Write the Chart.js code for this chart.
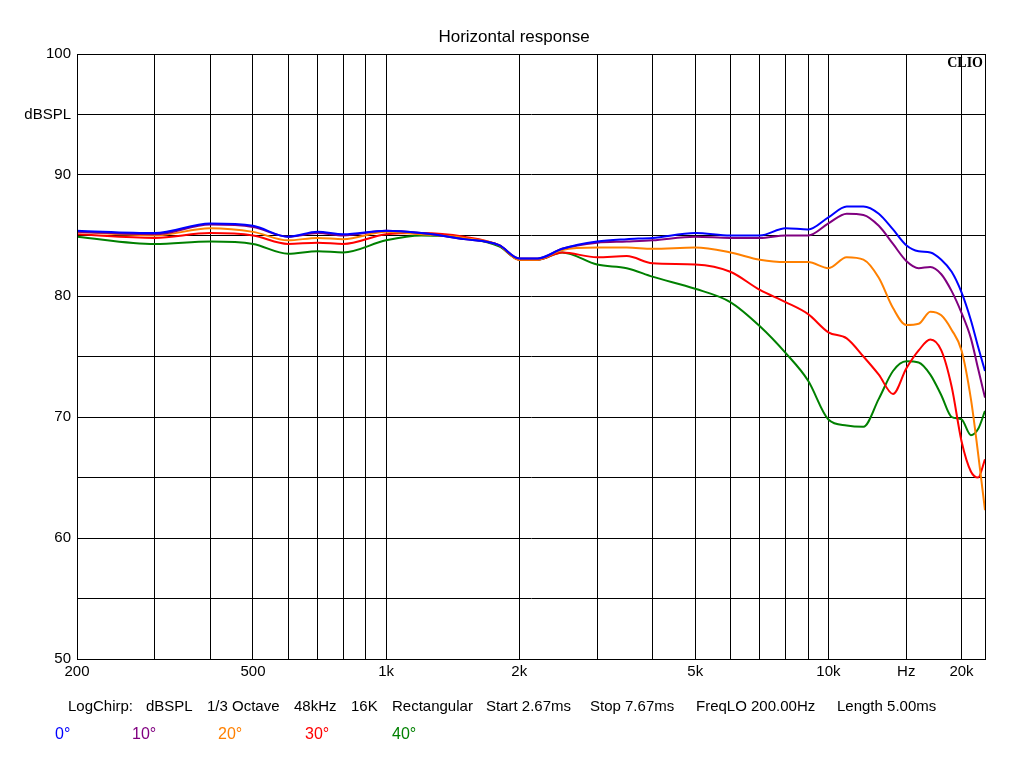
<!DOCTYPE html>
<html><head><script src="https://cdn.jsdelivr.net/npm/chart.js@4"></script>
<style>body{margin:0;background:#fff}#w{width:1024px;height:768px}</style></head>
<body><div id="w"><canvas id="c"></canvas></div>
<script>
const freqs=[200,300,400,500,600,700,800,1000,1200,1500,1800,2000,2200,2500,3000,3500,4000,5000,6000,7000,8000,9000,10000,11000,12000,13000,14000,15000,16000,17000,18000,19000,20000,21000,21800,22600];
const s0=[85.4,85.2,86.0,85.8,84.9,85.3,85.1,85.4,85.2,84.7,84.2,83.1,83.1,83.9,84.5,84.7,84.8,85.2,85.0,85.0,85.6,85.5,86.5,87.4,87.4,86.8,85.5,84.2,83.7,83.6,83.0,82.0,80.3,78.0,75.8,73.8];
const s10=[85.3,85.1,85.9,85.7,84.9,85.2,85.0,85.4,85.2,84.7,84.2,83.1,83.1,83.9,84.4,84.5,84.6,84.9,84.8,84.8,85.0,85.0,86.0,86.8,86.7,85.8,84.3,82.9,82.3,82.4,81.8,80.4,78.6,76.5,74.0,71.6];
const s20=[85.3,85.0,85.6,85.3,84.6,84.8,84.7,85.3,85.1,84.8,84.2,83.0,83.0,83.8,84.0,84.0,83.9,84.0,83.6,83.0,82.8,82.8,82.3,83.2,83.0,81.5,79.0,77.6,77.7,78.7,78.4,77.2,75.5,71.5,67.0,62.3];
const s30=[85.1,84.8,85.2,85.0,84.3,84.4,84.3,85.1,85.2,84.9,84.2,83.0,83.0,83.6,83.2,83.3,82.7,82.6,82.0,80.5,79.5,78.5,77.0,76.5,75.0,73.5,71.9,74.0,75.5,76.4,75.5,72.5,68.0,65.5,65.0,66.5];
const s40=[84.9,84.3,84.5,84.3,83.5,83.7,83.6,84.6,85.0,84.8,84.1,83.0,83.0,83.6,82.6,82.3,81.6,80.6,79.5,77.5,75.3,73.0,69.8,69.3,69.2,71.5,73.8,74.6,74.5,73.5,71.8,70.0,69.8,68.5,69.0,70.5];
const series=[["0°",s0,"#0000ff"],["10°",s10,"#800080"],["20°",s20,"#ff8000"],["30°",s30,"#ff0000"],["40°",s40,"#008000"]];
const gridX=[200,300,400,500,600,700,800,900,1000,2000,3000,4000,5000,6000,7000,8000,9000,10000,15000,20000];
const xLabels={200:"200",500:"500",1000:"1k",2000:"2k",5000:"5k",10000:"10k",15000:"Hz",20000:"20k"};
const infoParts=[["LogChirp:",68],["dBSPL",146],["1/3 Octave",207],["48kHz",294],["16K",351],["Rectangular",392],["Start 2.67ms",486],["Stop 7.67ms",590],["FreqLO 200.00Hz",696],["Length 5.00ms",837]];
const font="'Liberation Sans', Arial, sans-serif";
const deco={id:"deco",afterDraw(ch){const c=ch.ctx,a=ch.chartArea;c.save();
c.fillStyle="#000";c.font="17px "+font;c.textAlign="center";c.fillText("Horizontal response",514,42);
c.font="bold 14px 'Liberation Serif', serif";c.textAlign="right";c.fillText("CLIO",983,67);
c.font="15px "+font;c.textAlign="left";infoParts.forEach(p=>c.fillText(p[0],p[1],711));
const xs=[55,132,218,305,392];series.forEach((s,i)=>{c.fillStyle=s[2];c.font="16px "+font;c.fillText(s[0],xs[i],739);});
c.strokeStyle="#000";c.lineWidth=1;c.strokeRect(a.left+.5,a.top+.5,a.right-a.left,a.bottom-a.top);c.restore();}};
new Chart(document.getElementById("c"),{type:"scatter",
data:{datasets:series.map(s=>({label:s[0],data:freqs.map((f,i)=>({x:f,y:s[1][i]})),showLine:true,borderColor:s[2],backgroundColor:s[2],pointRadius:0,borderWidth:2,tension:0.4,cubicInterpolationMode:"monotone"}))},
options:{animation:false,responsive:true,maintainAspectRatio:false,
layout:{padding:{left:10,right:39,top:54,bottom:79}},
plugins:{legend:{display:false},tooltip:{enabled:false}},
scales:{x:{type:"logarithmic",min:200,max:22600,afterBuildTicks:s=>{s.ticks=gridX.map(v=>({value:v}));},
afterFit:s=>{s.height=30;},
ticks:{autoSkip:false,maxRotation:0,color:"#000",font:{size:15,family:font},padding:4,callback:v=>xLabels[v]||""},
grid:{color:"#000",lineWidth:1,drawTicks:false},border:{color:"#000"}},
y:{min:50,max:100,afterBuildTicks:s=>{const t=[];for(let v=50;v<=100;v+=5)t.push({value:v});s.ticks=t;},
afterFit:s=>{s.width=67;},
ticks:{color:"#000",font:{size:15,family:font},padding:6,callback:v=>v===95?"dBSPL":(v%10===0?String(v):"")},
grid:{color:"#000",lineWidth:1,drawTicks:false},border:{color:"#000"}}}},
plugins:[deco]});
</script></body></html>
